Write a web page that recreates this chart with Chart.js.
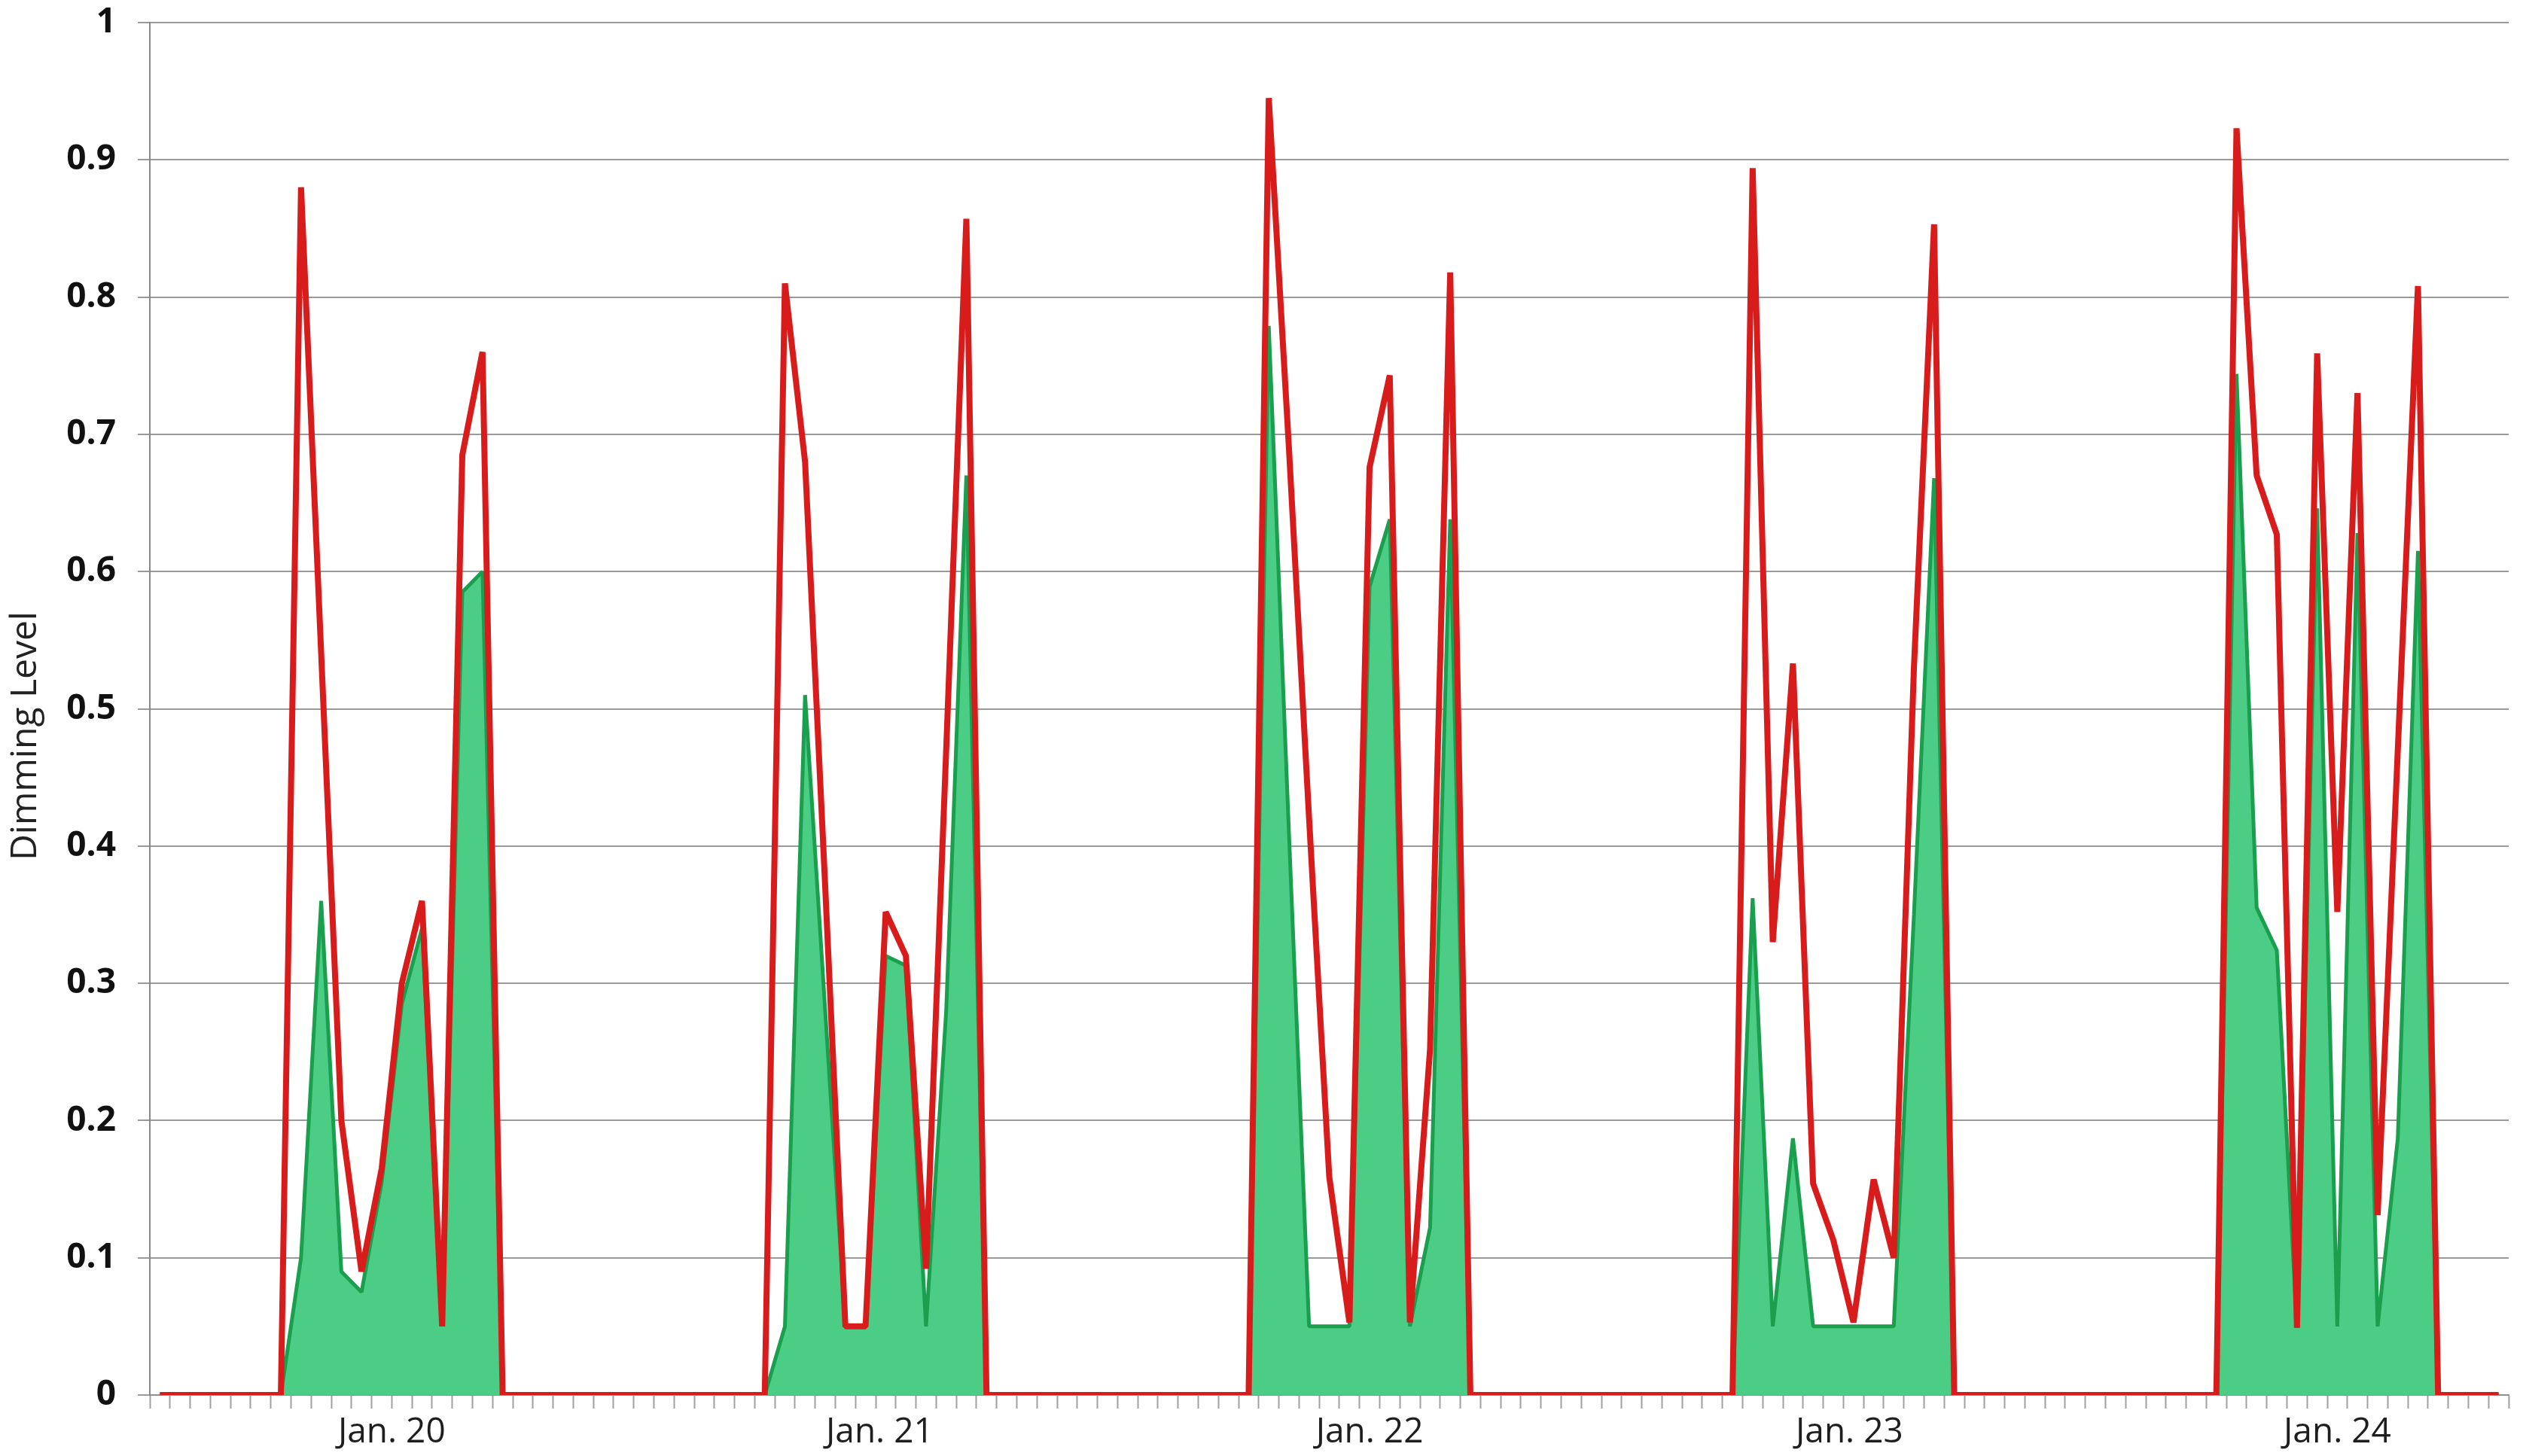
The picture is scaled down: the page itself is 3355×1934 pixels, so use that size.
<!DOCTYPE html>
<html>
<head>
<meta charset="utf-8">
<script src="https://cdn.jsdelivr.net/npm/chart.js@4.4.1/dist/chart.umd.min.js"></script>
<style>
  html, body { margin: 0; padding: 0; background: #ffffff; }
  #wrap { width: 3355px; height: 1934px; }
</style>
</head>
<body>
<div id="wrap"><canvas id="c" width="3355" height="1934"></canvas></div>
<script>
// ---- data (hourly samples, 117 hours starting at hour 0 of the first day) ----
const dayLabels = ['Jan. 20', 'Jan. 21', 'Jan. 22', 'Jan. 23', 'Jan. 24'];
// positions (in hour index units) where the day labels are centred
const dayLabelAt = [11.5, 35.7, 60.0, 83.8, 108.0];

const yTickValues = [0, 0.1, 0.2, 0.3, 0.4, 0.5, 0.6, 0.7, 0.8, 0.9, 1];

// red series (upper line)
const redJan20 = [0,0,0,0,0,0,0, 0.88,0.54,0.20,0.09,0.165,0.30,0.36,0.05,0.685,0.76, 0,0,0,0,0,0,0];
const redJan21 = [0,0,0,0,0,0,0, 0.81,0.68,0.37,0.05,0.05,0.352,0.32,0.092,0.47,0.857, 0,0,0,0,0,0,0];
const redJan22 = [0,0,0,0,0,0,0, 0.945,0.69,0.42,0.159,0.053,0.676,0.743,0.053,0.252,0.818, 0,0,0,0,0,0,0];
const redJan23 = [0,0,0,0,0,0,0, 0.894,0.33,0.533,0.154,0.113,0.053,0.157,0.10,0.53,0.853, 0,0,0,0,0,0,0];
const redJan24 = [0,0,0,0,0,0,0, 0.923,0.67,0.627,0.049,0.759,0.352,0.73,0.131,0.47,0.808, 0,0,0,0];

// green series (filled area)
const greenJan20 = [0,0,0,0,0,0,0, 0.10,0.36,0.09,0.075,0.155,0.285,0.34,0.05,0.585,0.60, 0,0,0,0,0,0,0];
const greenJan21 = [0,0,0,0,0,0,0, 0.05,0.51,0.28,0.05,0.05,0.32,0.313,0.05,0.28,0.67, 0,0,0,0,0,0,0];
const greenJan22 = [0,0,0,0,0,0,0, 0.779,0.41,0.05,0.05,0.05,0.589,0.638,0.05,0.122,0.638, 0,0,0,0,0,0,0];
const greenJan23 = [0,0,0,0,0,0,0, 0.362,0.05,0.187,0.05,0.05,0.05,0.05,0.05,0.35,0.668, 0,0,0,0,0,0,0];
const greenJan24 = [0,0,0,0,0,0,0, 0.744,0.355,0.324,0.049,0.646,0.05,0.628,0.05,0.187,0.615, 0,0,0,0];

const redLevel = [].concat(redJan20, redJan21, redJan22, redJan23, redJan24);
const greenLevel = [].concat(greenJan20, greenJan21, greenJan22, greenJan23, greenJan24);
const N = redLevel.length;

const toPoints = arr => arr.map((v, i) => ({ x: i, y: v }));

const FONT = "'Open Sans', 'DejaVu Sans', sans-serif";

new Chart(document.getElementById('c'), {
  type: 'line',
  data: {
    datasets: [
      {
        label: 'Red',
        data: toPoints(redLevel),
        borderColor: '#d81c1c',
        borderWidth: 8,
        pointRadius: 0,
        tension: 0,
        fill: false,
        borderJoinStyle: 'bevel'
      },
      {
        label: 'Green',
        data: toPoints(greenLevel),
        borderColor: '#1a9f4e',
        backgroundColor: '#4bcd86',
        borderWidth: 5,
        pointRadius: 0,
        tension: 0,
        fill: 'origin',
        borderJoinStyle: 'bevel'
      }
    ]
  },
  options: {
    responsive: false,
    devicePixelRatio: 1,
    animation: false,
    layout: { padding: { left: 0, right: 23, top: 30, bottom: 0 } },
    plugins: { legend: { display: false }, tooltip: { enabled: false } },
    scales: {
      x: {
        type: 'linear',
        min: -0.5,
        max: N - 0.5,
        afterFit: s => { s.height = 81; },
        afterBuildTicks: axis => {
          const t = [];
          for (let k = 0; k <= N; k++) t.push({ value: k - 0.5 });
          dayLabelAt.forEach((p, j) => t.push({ value: p, dayLabel: dayLabels[j] }));
          t.sort((a, b) => a.value - b.value);
          axis.ticks = t;
        },
        ticks: {
          autoSkip: false,
          maxRotation: 0,
          minRotation: 0,
          padding: 4,
          color: '#1e1e1e',
          font: { family: FONT, size: 46 },
          callback: function (value, index, ticks) {
            return ticks[index].dayLabel ? ticks[index].dayLabel : '';
          }
        },
        grid: {
          drawOnChartArea: false,
          drawTicks: true,
          tickLength: 18,
          tickWidth: 2,
          tickColor: ctx => (ctx.tick && ctx.tick.dayLabel) ? 'rgba(0,0,0,0)' : '#a0a0a0'
        },
        border: { display: true, color: '#909090', width: 2 }
      },
      y: {
        min: 0,
        max: 1,
        afterFit: s => {
          s.width = 199;
          s.paddingTop = 0;
          s.paddingBottom = 0;
          if (!s._titleShifted) {
            const orig = s.drawTitle;
            s.drawTitle = function () {
              const ctx = this.ctx;
              ctx.save();
              ctx.translate(0, 36);
              orig.apply(this, arguments);
              ctx.restore();
            };
            s._titleShifted = true;
          }
        },
        afterBuildTicks: axis => { axis.ticks = yTickValues.map(v => ({ value: v })); },
        ticks: {
          padding: 29,
          color: '#111111',
          font: { family: FONT, size: 46, weight: 'bold' },
          callback: v => String(+v.toFixed(1))
        },
        grid: {
          color: '#9a9a9a',
          lineWidth: 2,
          drawTicks: true,
          tickLength: 16
        },
        border: { display: true, color: '#888888', width: 2 },
        title: {
          display: true,
          text: 'Dimming Level',
          color: '#222222',
          font: { family: FONT, size: 48 },
          padding: { top: 6, bottom: 0 }
        }
      }
    }
  }
});
</script>
</body>
</html>
